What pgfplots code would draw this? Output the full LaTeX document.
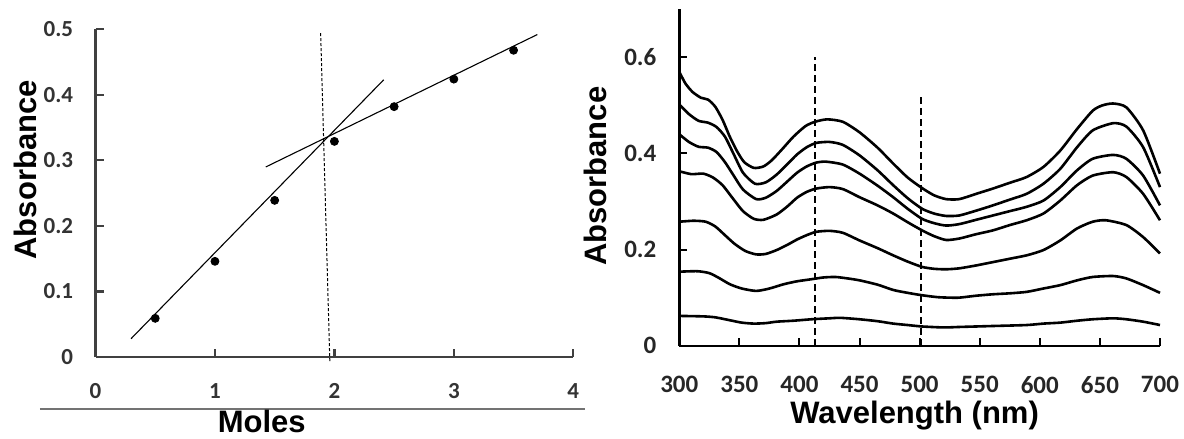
\documentclass[border=0pt]{standalone}
\usepackage{fontspec}
\setmainfont{Liberation Sans}
\newfontfamily\carlito{Carlito}
\usepackage{pgfplots}
\pgfplotsset{compat=1.18}
\begin{document}
\begin{tikzpicture}
\useasboundingbox (0,0) rectangle (592pt,-219.5pt);
% ---------------- left panel ----------------
\begin{axis}[
  at={(47.75pt,-178.5pt)}, anchor=south west, scale only axis,
  width=238.9pt, height=163.85pt,
  xmin=0, xmax=4, ymin=0, ymax=0.5,
  axis x line=bottom, axis y line=left,
  axis line style={-, line width=1.3pt, black!75},
  xtick={0,1,2,3,4}, xticklabels={0,1,2,3,4},
  ytick={0,0.1,0.2,0.3,0.4,0.5}, yticklabels={0,0.1,0.2,0.3,0.4,0.5},
  tick align=inside, major tick length=4pt,
  tick style={line width=1.1pt, black!75},
  /pgf/number format/assume math mode=true,
  xticklabel style={font=\carlito\bfseries\fontsize{11.5}{13}\selectfont, text=black!80, inner sep=0pt, anchor=north, yshift=-13.25pt},
  yticklabel style={font=\carlito\bfseries\fontsize{11.5}{13}\selectfont, text=black!80, inner sep=0pt, anchor=east, xshift=-11pt},
  clip=false,
]
\addplot[only marks, mark=*, mark size=2pt, black] coordinates {
  (0.5,0.059) (1,0.146) (1.5,0.239) (2,0.329) (2.5,0.382) (3,0.424) (3.5,0.468)};
\addplot[black, line width=0.55pt] coordinates {(0.298,0.028) (2.413,0.423)};
\addplot[black, line width=0.55pt] coordinates {(1.426,0.290) (3.699,0.492)};
\addplot[black, line width=0.5pt, dash pattern=on 1.5pt off 1pt] coordinates {(1.885,0.494) (1.962,-0.0086)};
\draw[black!55, line width=1pt] (axis cs:-0.465,-0.0793) -- (axis cs:4.098,-0.0793);
\node[rotate=90, font=\bfseries\fontsize{15.5}{18}\selectfont] at (rel axis cs:-0.1476,0.571) {Absorbance};
\node[font=\bfseries\fontsize{15.5}{18}\selectfont] at (rel axis cs:0.348,-0.198) {Moles};
\end{axis}
% ---------------- right panel ----------------
\begin{axis}[
  at={(339.65pt,-172.85pt)}, anchor=south west, scale only axis,
  width=240.35pt, height=168.2pt,
  xmin=300, xmax=700, ymin=0, ymax=0.7,
  axis x line=bottom, axis y line=left,
  axis line style={-, line width=1.2pt, black},
  xtick={300,350,...,700}, xticklabels={300,350,400,450,500,550,600,650,700},
  ytick={0,0.2,0.4,0.6}, yticklabels={0,0.2,0.4,0.6},
  tick align=inside, major tick length=4pt,
  tick style={line width=1pt, black},
  /pgf/number format/assume math mode=true,
  xticklabel style={font=\carlito\bfseries\fontsize{12.5}{14}\selectfont, text=black!85, inner sep=0pt, anchor=north, yshift=-15pt},
  yticklabel style={font=\carlito\bfseries\fontsize{12.5}{14}\selectfont, text=black!85, inner sep=0pt, anchor=east, xshift=-11.3pt},
  clip=false,
]
\addplot[black, line width=1pt, dash pattern=on 3.5pt off 2pt] coordinates {(412.8,0) (412.8,0.6)};
\addplot[black, line width=1pt, dash pattern=on 3.5pt off 2pt] coordinates {(501.5,0) (501.5,0.517)};
% C1
\addplot[black, line width=1.3pt, smooth, tension=0.4] coordinates {
(300,0.570) (305,0.546) (311,0.528) (318,0.516) (324,0.512) (330,0.497) (336,0.470) (342,0.435) (348,0.405) (354,0.382) (362,0.370) (370,0.373) (377,0.386) (386,0.410) (395,0.435) (405,0.457) (413,0.466) (423,0.471) (436,0.466) (450,0.444) (465,0.412) (478,0.379) (490,0.350) (502,0.328) (512,0.313) (522,0.305) (533,0.305) (547,0.316) (561,0.327) (575,0.339) (589,0.351) (603,0.372) (617,0.406) (631,0.451) (644,0.489) (652,0.500) (661,0.504) (672,0.496) (686,0.448) (700,0.358)};
% C2
\addplot[black, line width=1.3pt, smooth, tension=0.4] coordinates {
(300,0.502) (308,0.482) (316,0.468) (324,0.464) (331,0.455) (338,0.435) (345,0.400) (353,0.360) (363,0.337) (372,0.340) (381,0.356) (390,0.378) (398,0.398) (406,0.413) (414,0.422) (425,0.424) (436,0.418) (450,0.396) (465,0.365) (478,0.334) (490,0.307) (502,0.285) (512,0.275) (522,0.270) (533,0.271) (547,0.281) (561,0.292) (575,0.304) (589,0.316) (603,0.337) (617,0.368) (631,0.413) (644,0.448) (661,0.463) (672,0.456) (686,0.413) (700,0.330)};
% C3
\addplot[black, line width=1.3pt, smooth, tension=0.4] coordinates {
(300,0.440) (308,0.424) (316,0.414) (324,0.412) (331,0.403) (338,0.382) (345,0.355) (353,0.325) (364,0.305) (372,0.308) (381,0.322) (390,0.342) (398,0.360) (406,0.373) (414,0.381) (422,0.383) (436,0.377) (450,0.358) (465,0.333) (478,0.309) (490,0.285) (502,0.264) (512,0.255) (522,0.250) (533,0.253) (547,0.262) (561,0.271) (575,0.280) (589,0.289) (603,0.302) (617,0.330) (631,0.365) (644,0.389) (661,0.397) (672,0.389) (686,0.354) (700,0.292)};
% C4
\addplot[black, line width=1.3pt, smooth, tension=0.4] coordinates {
(300,0.363) (310,0.357) (320,0.358) (328,0.350) (336,0.334) (345,0.305) (353,0.280) (362,0.264) (370,0.262) (381,0.273) (390,0.290) (398,0.308) (406,0.320) (414,0.327) (425,0.330) (436,0.326) (450,0.309) (465,0.292) (478,0.275) (490,0.257) (502,0.240) (512,0.228) (522,0.220) (533,0.223) (547,0.232) (561,0.240) (575,0.251) (589,0.261) (603,0.275) (617,0.302) (631,0.334) (644,0.354) (661,0.361) (672,0.351) (686,0.316) (700,0.261)};
% C5
\addplot[black, line width=1.3pt, smooth, tension=0.4] coordinates {
(300,0.258) (312,0.260) (322,0.258) (330,0.248) (338,0.230) (346,0.212) (355,0.197) (364,0.190) (372,0.191) (381,0.199) (390,0.210) (398,0.221) (406,0.230) (414,0.237) (425,0.239) (436,0.235) (450,0.219) (465,0.203) (478,0.188) (490,0.175) (502,0.164) (512,0.160) (522,0.159) (533,0.161) (547,0.167) (561,0.174) (575,0.181) (589,0.188) (603,0.199) (617,0.219) (631,0.244) (644,0.258) (655,0.261) (672,0.251) (686,0.226) (700,0.192)};
% C6
\addplot[black, line width=1.3pt, smooth, tension=0.4] coordinates {
(300,0.154) (315,0.155) (325,0.151) (333,0.141) (342,0.128) (352,0.119) (364,0.114) (375,0.119) (387,0.128) (398,0.134) (409,0.138) (420,0.142) (430,0.143) (440,0.140) (450,0.136) (465,0.127) (478,0.116) (490,0.110) (502,0.105) (515,0.101) (525,0.100) (533,0.100) (547,0.104) (561,0.107) (575,0.109) (589,0.112) (603,0.119) (617,0.126) (631,0.136) (644,0.143) (661,0.145) (672,0.140) (686,0.126) (700,0.110)};
% C7
\addplot[black, line width=1.3pt, smooth, tension=0.4] coordinates {
(300,0.062) (320,0.061) (330,0.059) (342,0.053) (352,0.048) (362,0.046) (372,0.047) (381,0.050) (395,0.052) (410,0.055) (425,0.057) (434,0.058) (450,0.055) (465,0.051) (478,0.046) (490,0.043) (502,0.040) (520,0.038) (533,0.039) (547,0.040) (561,0.041) (589,0.043) (603,0.046) (617,0.048) (631,0.052) (644,0.055) (661,0.057) (672,0.055) (686,0.050) (700,0.043)};
\node[rotate=90, font=\bfseries\fontsize{15.5}{18}\selectfont] at (rel axis cs:-0.175,0.504) {Absorbance};
\node[font=\bfseries\fontsize{15.5}{18}\selectfont] at (rel axis cs:0.4895,-0.209) {Wavelength (nm)};
\end{axis}
\end{tikzpicture}
\end{document}
